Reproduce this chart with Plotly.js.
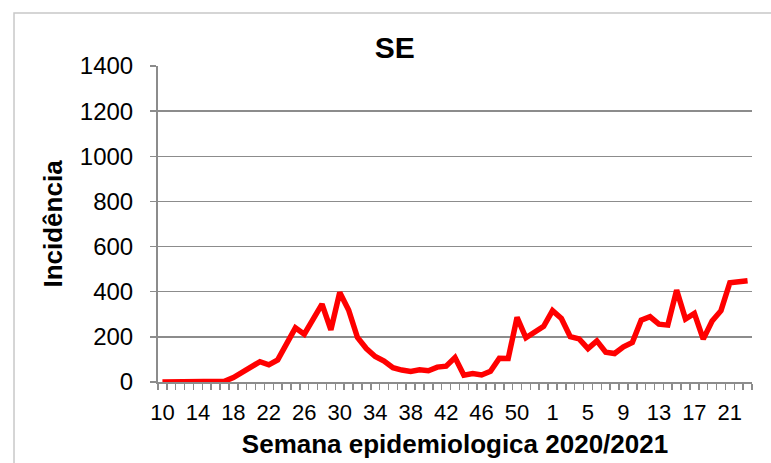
<!DOCTYPE html>
<html><head><meta charset="utf-8">
<script src="https://cdn.plot.ly/plotly-3.0.1.min.js"></script>
<style>html,body{margin:0;padding:0;background:#fff}#c{width:771px;height:463px}</style>
</head><body><div id="c"></div>
<script>
const weeks2020 = [10,11,12,13,14,15,16,17,18,19,20,21,22,23,24,25,26,27,28,29,30,31,32,33,34,35,36,37,38,39,40,41,42,43,44,45,46,47,48,49,50,51,52,53];
const weeks2021 = [1,2,3,4,5,6,7,8,9,10,11,12,13,14,15,16,17,18,19,20,21,22,23];
const incidence2020 = [0,0,0,0,0,0,0,3,20,44,69,90,76,98,169,240,212,279,345,231,397,319,197,148,113,93,63,53,47,54,50,66,70,108,30,37,31,47,105,104,286,196,222,247];
const incidence2021 = [316,281,201,191,148,182,132,126,156,175,274,289,256,252,407,279,304,190,270,316,440,444,449];
const labelEvery = 4;

const weeks = weeks2020.concat(weeks2021);
const values = incidence2020.concat(incidence2021);
const idx = weeks.map((w,i)=>i);
const tickvals = idx.filter(i=>i%labelEvery===0);
const ticktext = tickvals.map(i=>String(weeks[i]));
const minorVals = weeks.map((w,i)=>i-0.5).concat([weeks.length-0.5]);

const font = "Liberation Sans, Arial, sans-serif";
Plotly.newPlot('c', [{
  x: idx, y: values, type:'scatter', mode:'lines',
  line:{color:'#ff0000', width:5.5}, hoverinfo:'skip'
}], {
  width:771, height:463,
  margin:{l:158, r:19, t:66, b:81},
  paper_bgcolor:'#fff', plot_bgcolor:'#fff',
  showlegend:false,
  font:{family:font, color:'#000'},
  title:{text:'<b>SE</b>', font:{size:30, family:font, color:'#000'}, x:0.512, xref:'container', y:0.898, yref:'container', yanchor:'middle', xanchor:'center'},
  xaxis:{
    range:[-0.5, weeks.length-0.5], tickmode:'array', tickvals:tickvals, ticktext:ticktext,
    ticks:'', showgrid:false, zeroline:false, showline:true, linecolor:'#8c8c8c', linewidth:2,
    tickfont:{size:22, family:font}, ticklabelstandoff:10,
    minor:{tickmode:'array', tickvals:minorVals, ticks:'outside', ticklen:6, tickcolor:'#8c8c8c', tickwidth:1.5, showgrid:false},
    title:{text:'<b>Semana epidemiologica 2020/2021</b>', font:{size:26, family:font}, standoff:10}
  },
  yaxis:{
    range:[0,1400], dtick:200, ticks:'outside', ticklen:6, tickcolor:'#8c8c8c', tickwidth:1.5,
    showgrid:true, gridcolor:'#8c8c8c', gridwidth:1.5, zeroline:false,
    showline:true, linecolor:'#8c8c8c', linewidth:2,
    tickfont:{size:24, family:font}, ticklabelstandoff:12,
    title:{text:'<b>Incidência</b>', font:{size:26, family:font}, standoff:10}
  },
  shapes:[{type:'rect', xref:'paper', yref:'paper', x0:-0.2424, x1:1.2, y0:-0.5, y1:1.1677, line:{color:'#c8c8c8', width:1.5}, fillcolor:'rgba(0,0,0,0)', layer:'below'}]
}, {displayModeBar:false, staticPlot:true});
</script></body></html>
